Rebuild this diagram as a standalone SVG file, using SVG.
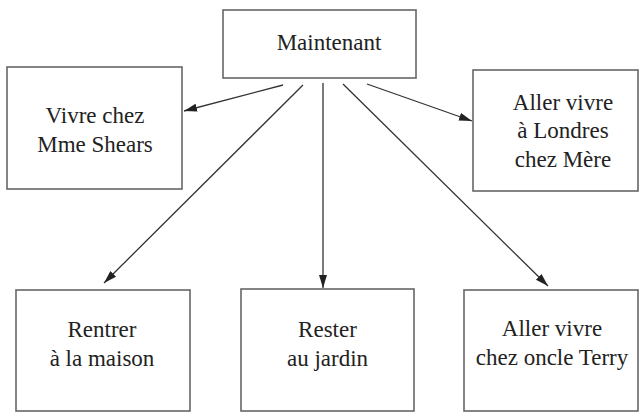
<svg xmlns="http://www.w3.org/2000/svg" width="640" height="413" viewBox="0 0 640 413">
<defs>
<style>
.box{fill:#fff;stroke:#666;stroke-width:1.6}
.t{font-family:'Liberation Serif',serif;font-size:23px;fill:#222;text-anchor:middle}
.c{stroke:#333;stroke-width:1.3;fill:none;marker-end:url(#ah)}
</style>
<marker id="ah" markerUnits="userSpaceOnUse" markerWidth="14" markerHeight="10" viewBox="0 0 14 10" refX="13" refY="5" orient="auto">
<path d="M0,1 L13,5 L0,9 Z" fill="#222"/>
</marker>
</defs>
<rect width="640" height="413" fill="#fff"/>
<g id="connectors">
<line class="c" x1="283" y1="85" x2="184" y2="111"/>
<line class="c" x1="303" y1="85" x2="104" y2="283"/>
<line class="c" x1="323" y1="83" x2="323" y2="288"/>
<line class="c" x1="343" y1="84" x2="548" y2="286"/>
<line class="c" x1="367" y1="84" x2="472" y2="121"/>
</g>
<g id="maintenant">
<rect class="box" x="223" y="10" width="193" height="68"/>
<text class="t" x="329" y="50" font-family="Liberation Serif, serif">Maintenant</text>
</g>
<g id="mme-shears">
<rect class="box" x="7" y="67" width="175" height="122"/>
<text class="t" x="95" y="123" font-family="Liberation Serif, serif">Vivre chez</text>
<text class="t" x="95" y="152" font-family="Liberation Serif, serif">Mme Shears</text>
</g>
<g id="londres">
<rect class="box" x="473" y="70" width="165" height="121"/>
<text class="t" x="563" y="110" font-family="Liberation Serif, serif">Aller vivre</text>
<text class="t" x="563" y="138" font-family="Liberation Serif, serif">à Londres</text>
<text class="t" x="563" y="167" font-family="Liberation Serif, serif">chez Mère</text>
</g>
<g id="maison">
<rect class="box" x="16" y="290" width="174" height="121"/>
<text class="t" x="102" y="337" font-family="Liberation Serif, serif">Rentrer</text>
<text class="t" x="102" y="366" font-family="Liberation Serif, serif">à la maison</text>
</g>
<g id="jardin">
<rect class="box" x="241" y="289" width="173" height="122"/>
<text class="t" x="327.5" y="337" font-family="Liberation Serif, serif">Rester</text>
<text class="t" x="327.5" y="366" font-family="Liberation Serif, serif">au jardin</text>
</g>
<g id="terry">
<rect class="box" x="464" y="290" width="174" height="121"/>
<text class="t" x="552" y="336" font-family="Liberation Serif, serif">Aller vivre</text>
<text class="t" x="552" y="365" font-family="Liberation Serif, serif">chez oncle Terry</text>
</g>
</svg>
